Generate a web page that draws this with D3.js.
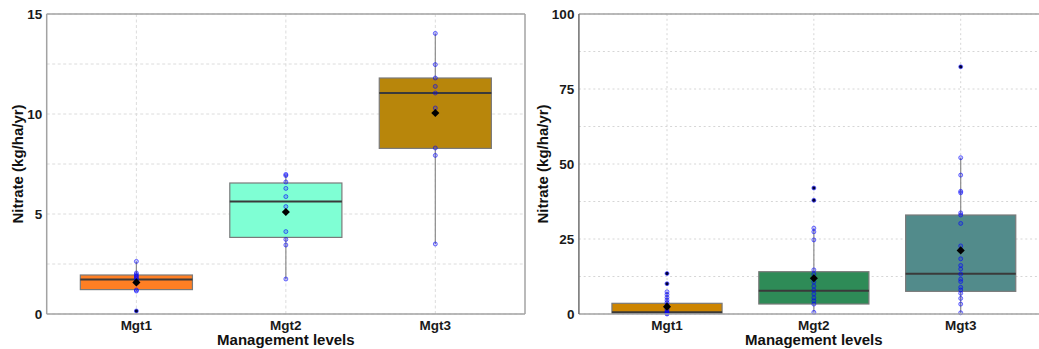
<!DOCTYPE html>
<html>
<head>
<meta charset="utf-8">
<script src="https://cdn.jsdelivr.net/npm/d3@7"></script>
<style>
  html, body { margin: 0; padding: 0; background: #fff; }
  svg { display: block; font-family: "Liberation Sans", Arial, sans-serif; }
</style>
</head>
<body>
<svg id="chart" width="1039" height="349"></svg>
<script>
// Shared categories
const categories = ["Mgt1", "Mgt2", "Mgt3"];

// Left panel: box statistics
const leftQ1 = [1.22, 3.83, 8.28];
const leftMedian = [1.73, 5.63, 11.05];
const leftQ3 = [1.95, 6.55, 11.80];
const leftWhiskerLow = [1.15, 1.75, 3.50];
const leftWhiskerHigh = [2.63, 6.98, 14.03];
const leftMean = [1.58, 5.10, 10.05];
const leftOutliers = [[0.15], [], []];
const leftPoints = [
  [2.63, 2.05, 1.97, 1.90, 1.85, 1.78, 1.70, 1.62, 1.55, 1.20, 1.15, 0.15],
  [6.98, 6.92, 6.60, 6.28, 5.87, 5.37, 4.12, 3.73, 3.45, 1.75],
  [14.03, 12.47, 11.80, 11.38, 11.05, 10.30, 8.30, 7.93, 3.50]
];
const leftFills = ["#FF7F24", "#7FFFD4", "#B8860B"];
const leftTicks = [0, 5, 10, 15];
const leftMinorTicks = [2.5, 7.5, 12.5];

// Right panel: box statistics
const rightQ1 = [0.2, 3.33, 7.55];
const rightMedian = [0.6, 7.78, 13.4];
const rightQ3 = [3.56, 14.1, 33.0];
const rightWhiskerLow = [0, 0.56, 0.4];
const rightWhiskerHigh = [7.4, 28.6, 52.1];
const rightMean = [2.45, 11.9, 21.2];
const rightOutliers = [[13.5, 10.1], [42.0, 37.9], [82.4]];
const rightPoints = [
  [13.5, 10.1, 7.4, 6.5, 5.5, 4.6, 3.8, 3.0, 2.3, 1.6, 1.0, 0.5, 0.2, 0],
  [42.0, 37.9, 28.6, 27.4, 24.7, 14.7, 13.3, 11.8, 10.7, 9.3, 8.0, 6.7, 5.4, 4.4, 3.3, 0.56],
  [82.4, 52.1, 46.3, 40.9, 40.4, 33.7, 33.0, 30.2, 22.7, 18.4, 16.2, 15.0, 13.3, 11.6, 10.8, 8.9, 8.0, 6.9, 5.2, 3.3, 0.4]
];
const rightFills = ["#CD8500", "#2E8B57", "#528B8B"];
const rightTicks = [0, 25, 50, 75, 100];
const rightMinorTicks = [12.5, 37.5, 62.5, 87.5];

const svg = d3.select("#chart");

function drawPanel(p) {
  const g = svg.append("g");
  // discrete axis with 0.6-unit expansion on both sides
  const x = d3.scalePoint().domain(categories)
    .range([p.left, p.right]).padding(0.6);
  const unit = x.step();
  const y = d3.scaleLinear().domain(p.domain).range([p.bottom, p.top]);
  const boxW = unit * 0.75;

  // grid
  const grid = g.append("g").attr("stroke", p.gridColor).attr("stroke-width", 1)
    .attr("stroke-dasharray", p.dash).attr("fill", "none");
  p.minor.concat(p.ticks).forEach(t => {
    grid.append("line").attr("x1", p.left).attr("x2", p.right)
      .attr("y1", y(t)).attr("y2", y(t));
  });
  categories.forEach(c => {
    grid.append("line").attr("x1", x(c)).attr("x2", x(c))
      .attr("y1", p.top).attr("y2", p.bottom);
  });

  // boxes
  categories.forEach((c, i) => {
    const xc = x(c);
    g.append("line").attr("x1", xc).attr("x2", xc)
      .attr("y1", y(p.whiskerLow[i])).attr("y2", y(p.q1[i]))
      .attr("stroke", "#8c8c8c").attr("stroke-width", 1.2);
    g.append("line").attr("x1", xc).attr("x2", xc)
      .attr("y1", y(p.q3[i])).attr("y2", y(p.whiskerHigh[i]))
      .attr("stroke", "#8c8c8c").attr("stroke-width", 1.2);
    g.append("rect").attr("x", xc - boxW / 2).attr("width", boxW)
      .attr("y", y(p.q3[i])).attr("height", y(p.q1[i]) - y(p.q3[i]))
      .attr("fill", p.fills[i]).attr("stroke", "#7a7a7a").attr("stroke-width", 1.2);
    g.append("line").attr("x1", xc - boxW / 2).attr("x2", xc + boxW / 2)
      .attr("y1", y(p.median[i])).attr("y2", y(p.median[i]))
      .attr("stroke", "#3a3a3a").attr("stroke-width", 2);
  });

  // outliers (boxplot default dots)
  categories.forEach((c, i) => {
    p.outliers[i].forEach(v => {
      g.append("circle").attr("cx", x(c)).attr("cy", y(v)).attr("r", 1.7)
        .attr("fill", "#000");
    });
  });

  // observations
  categories.forEach((c, i) => {
    g.selectAll(null).data(p.points[i]).enter().append("circle")
      .attr("cx", x(c)).attr("cy", d => y(d)).attr("r", 2)
      .attr("fill", "rgba(0,0,255,0.2)")
      .attr("stroke", "rgba(0,0,255,0.6)").attr("stroke-width", 0.9);
  });

  // means
  const diamond = d3.symbol().type(d3.symbolDiamond2).size(42);
  categories.forEach((c, i) => {
    g.append("path").attr("d", diamond())
      .attr("transform", `translate(${x(c)},${y(p.mean[i])})`)
      .attr("fill", "#000");
  });

  // panel border
  const border = "#a3a3a3";
  g.append("line").attr("x1", p.left).attr("x2", p.right).attr("y1", p.top).attr("y2", p.top)
    .attr("stroke", border).attr("stroke-width", 1.5);
  g.append("line").attr("x1", p.right).attr("x2", p.right).attr("y1", p.top).attr("y2", p.bottom)
    .attr("stroke", border).attr("stroke-width", 1.5);
  g.append("line").attr("x1", p.left).attr("x2", p.right).attr("y1", p.bottom).attr("y2", p.bottom)
    .attr("stroke", border).attr("stroke-width", 1.5);
  g.append("line").attr("x1", p.left).attr("x2", p.left).attr("y1", p.top).attr("y2", p.bottom)
    .attr("stroke", p.leftAxisColor).attr("stroke-width", 1.5);

  // y tick labels
  g.selectAll(null).data(p.ticks).enter().append("text")
    .attr("x", p.left - 4.5).attr("y", d => y(d) + 4.6)
    .attr("text-anchor", "end").attr("font-size", 13.5).attr("font-weight", "bold")
    .attr("fill", "#1a1a1a").text(d => d);

  // x tick labels
  categories.forEach(c => {
    g.append("text").attr("x", x(c)).attr("y", 329.5)
      .attr("text-anchor", "middle").attr("font-size", 13.5).attr("font-weight", "bold")
      .attr("fill", "#1a1a1a").text(c);
  });

  // axis titles
  g.append("text").attr("x", (p.left + p.right) / 2).attr("y", 344.5)
    .attr("text-anchor", "middle").attr("font-size", 15).attr("font-weight", "bold")
    .attr("fill", "#111").text("Management levels");
  const ty = (p.top + p.bottom) / 2;
  g.append("text").attr("transform", `translate(${p.titleX},${ty}) rotate(-90)`)
    .attr("text-anchor", "middle").attr("font-size", 15).attr("font-weight", "bold")
    .attr("fill", "#111").text("Nitrate (kg/ha/yr)");
}

drawPanel({
  left: 46.7, right: 525, top: 14, bottom: 314, domain: [0, 15],
  ticks: leftTicks, minor: leftMinorTicks, dash: "3,2.5", gridColor: "#dcdcdc",
  q1: leftQ1, median: leftMedian, q3: leftQ3, whiskerLow: leftWhiskerLow,
  whiskerHigh: leftWhiskerHigh, mean: leftMean, outliers: leftOutliers,
  points: leftPoints, fills: leftFills, titleX: 22.5, leftAxisColor: "#a3a3a3"
});

drawPanel({
  left: 578.9, right: 1048.8, top: 14, bottom: 314, domain: [0, 100],
  ticks: rightTicks, minor: rightMinorTicks, dash: "2,2.8", gridColor: "#d6d6d6",
  q1: rightQ1, median: rightMedian, q3: rightQ3, whiskerLow: rightWhiskerLow,
  whiskerHigh: rightWhiskerHigh, mean: rightMean, outliers: rightOutliers,
  points: rightPoints, fills: rightFills, titleX: 547.5, leftAxisColor: "#6e6e6e"
});
</script>
</body>
</html>
